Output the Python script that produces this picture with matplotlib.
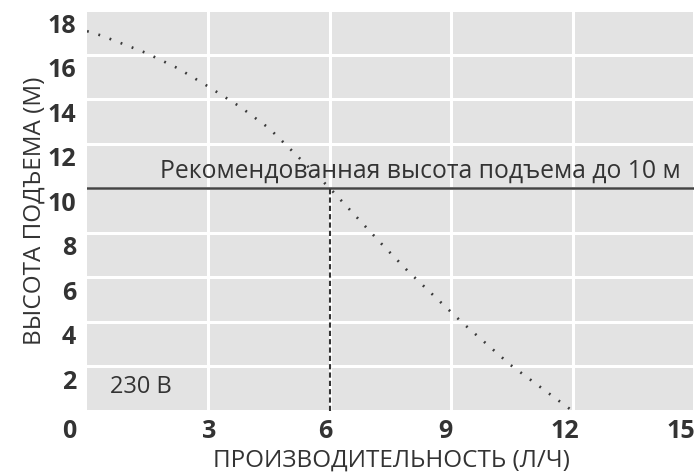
import matplotlib
matplotlib.use("Agg")
import matplotlib.pyplot as plt
from matplotlib.transforms import ScaledTranslation

# Data
flow = [0.0, 0.36, 1.45, 2.25, 3.0, 3.78, 4.5, 5.15, 6.0, 7.28, 7.93, 8.84, 9.29, 10.47, 12.0]
head = [17.05, 16.85, 16.08, 15.38, 14.56, 13.66, 12.69, 11.53, 10.0, 7.5, 6.28, 4.71, 3.94, 2.06, 0.0]
x_ticks = [3, 6, 9, 12, 15]
x_tick_labels = ["3", "6", "9", "12", "15"]
y_ticks = [0, 2, 4, 6, 8, 10, 12, 14, 16, 18]
y_tick_labels = ["0", "2", "4", "6", "8", "10", "12", "14", "16", "18"]
recommended_head = 10
recommended_flow = 6

FAM = ["Open Sans", "DejaVu Sans"]
TXT = "#333333"

fig = plt.figure(figsize=(6.96, 4.75), dpi=100)
ax = fig.add_axes([87/696, 64/475, 607/696, 401/475])
ax.set_facecolor("#e3e3e3")
ax.set_xlim(0, 15)
ax.set_ylim(0, 18)
for s in ax.spines.values():
    s.set_visible(False)

ax.set_xticks(x_ticks)
ax.set_xticklabels(x_tick_labels)
ax.set_yticks(y_ticks)
ax.set_yticklabels(y_tick_labels)
ax.tick_params(length=0, colors=TXT, labelsize=18)
ax.tick_params(axis="x", pad=6)
ax.tick_params(axis="y", pad=8)
for lab in ax.get_xticklabels() + ax.get_yticklabels():
    lab.set_family(FAM)
    lab.set_fontweight("bold")
ax.grid(True, color="white", linewidth=2.2)
ax.set_axisbelow(True)

# label offsets (pixels)
xoff = [1, -4.5, -5.5, -8, -13]
for lab, dx in zip(ax.get_xticklabels(), xoff):
    lab.set_transform(lab.get_transform() + ScaledTranslation(dx/100, 0, fig.dpi_scale_trans))
for lab, v in zip(ax.get_yticklabels(), y_ticks):
    dy = -18 if v == 0 else -13
    lab.set_transform(lab.get_transform() + ScaledTranslation(0, dy/100, fig.dpi_scale_trans))

# recommended line
ax.axhline(recommended_head, color="#444444", linewidth=1.8, zorder=3)
ax.plot([recommended_flow, recommended_flow], [0, recommended_head], color="#333333",
        linewidth=1.5, dashes=(2.5, 1.5), zorder=3)

# curve
ax.plot(flow, head, color="#3a3a3a", linewidth=1.9, dashes=(0.7, 3.8), zorder=4)

ax.text(1.80, 10.46, "Рекомендованная высота подъема до 10 м", family=FAM, fontsize=17.8,
        color=TXT, ha="left", va="baseline", zorder=5)
ax.text(0.57, 0.81, "230 В", family=FAM, fontsize=17, color=TXT, ha="left", va="baseline")

fig.text(391/696, 1 - 461/475, "ПРОИЗВОДИТЕЛЬНОСТЬ (Л/Ч)", family=FAM, fontsize=17.5,
         color=TXT, ha="center", va="center")
fig.text(35/696, 1 - 211/475, "ВЫСОТА ПОДЪЕМА (М)", family=FAM, fontsize=17.5,
         color=TXT, ha="center", va="center", rotation=90)

fig.savefig("out.png", dpi=100)
